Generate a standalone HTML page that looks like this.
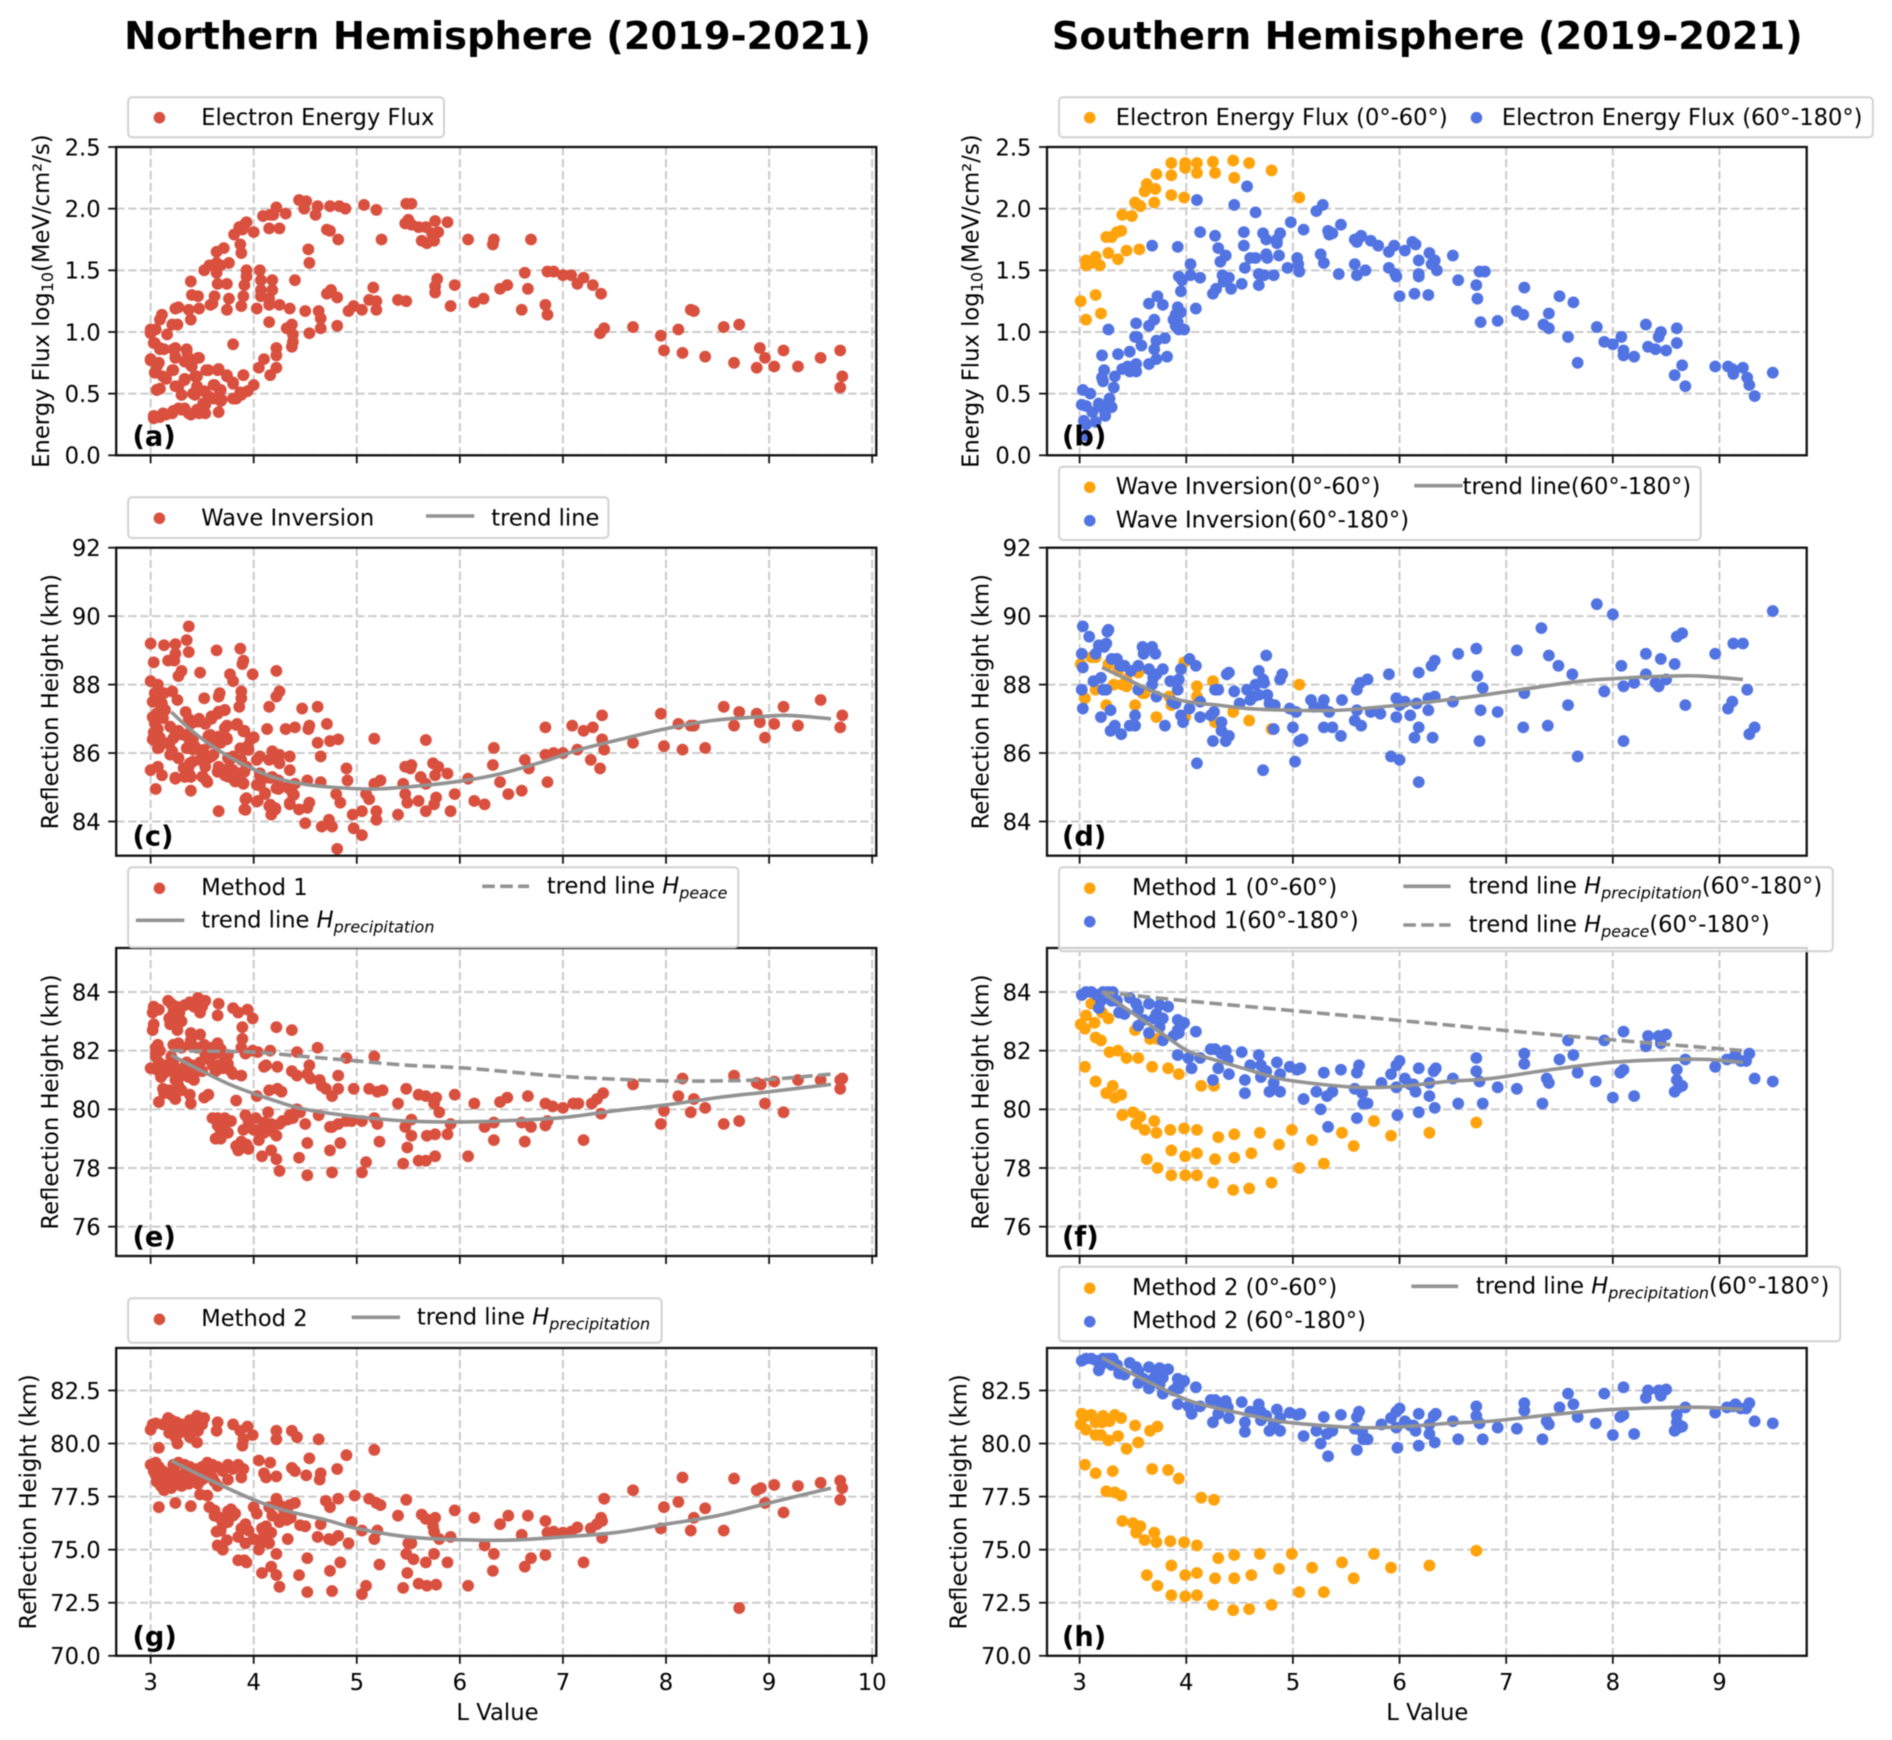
<!DOCTYPE html>
<html lang="en">
<head>
<meta charset="utf-8">
<title>Northern and Southern Hemisphere (2019-2021)</title>
<style>
html,body{margin:0;padding:0;background:#fff;width:1892px;height:1740px;overflow:hidden}
svg{display:block;filter:blur(.45px)}
text{font-family:"DejaVu Sans","Liberation Sans",sans-serif;fill:#000}
.lg{font-size:22.7px}
.ttl{font-size:38.4px;font-weight:bold;text-anchor:middle}
.box{fill:#fff;fill-opacity:.8;stroke:#d2d2d2;stroke-width:2}
.tl{stroke:#939393;stroke-width:3.6;fill:none}
.ds{stroke-dasharray:12.6 5.4}
.i{font-style:italic}
.s{font-size:16px;font-style:italic}
</style>
</head>
<body>
<svg id="figure" xmlns="http://www.w3.org/2000/svg" width="1892" height="1740" viewBox="0 0 1892 1740">
<rect width="1892" height="1740" fill="#fff"/>
<text class="ttl" x="497.5" y="49">Northern Hemisphere (2019-2021)</text>
<text class="ttl" x="1427.3" y="49">Southern Hemisphere (2019-2021)</text>
<g id="plots"></g>
<g id="legends">
<g transform="scale(.9964 1)">
<rect class="box" x="128.6" y="97.3" width="317" height="40" rx="4"/>
<circle cx="160" cy="117.7" r="5.8" fill="#d9503f"/>
<text class="lg" x="202" y="125">Electron Energy Flux</text>
</g>
<g transform="translate(3.4 0) scale(.9964 1)">
<rect class="box" x="1059.4" y="97.3" width="816.8" height="40" rx="4"/>
<circle cx="1090.3" cy="117.7" r="5.8" fill="#ffa30d"/>
<text class="lg" x="1116.4" y="125">Electron Energy Flux (0°-60°)</text>
<circle cx="1478.4" cy="117.7" r="5.8" fill="#5174e2"/>
<text class="lg" x="1503.9" y="125">Electron Energy Flux (60°-180°)</text>
</g>
<g transform="scale(.9964 1)">
<rect class="box" x="128.6" y="497.3" width="482" height="40.7" rx="4"/>
<circle cx="160" cy="518.3" r="5.8" fill="#d9503f"/>
<text class="lg" x="202" y="525.5">Wave Inversion</text>
<line class="tl" x1="427.5" x2="476" y1="516" y2="516"/>
<text class="lg" x="493" y="525.5">trend line</text>
</g>
<g transform="translate(3.4 0) scale(.9964 1)">
<rect class="box" x="1059.4" y="466.7" width="644" height="73.3" rx="4"/>
<circle cx="1090.3" cy="487.3" r="5.8" fill="#ffa30d"/>
<text class="lg" x="1116.4" y="494">Wave Inversion(0°-60°)</text>
<circle cx="1090.3" cy="520.7" r="5.8" fill="#5174e2"/>
<text class="lg" x="1116.4" y="527.5">Wave Inversion(60°-180°)</text>
<line class="tl" x1="1416" x2="1464.5" y1="485.7" y2="485.7"/>
<text class="lg" x="1464.5" y="494">trend line(60°-180°)</text>
</g>
<g transform="scale(.9964 1)">
<rect class="box" x="128.6" y="867.3" width="612.4" height="80" rx="4"/>
<circle cx="160" cy="888.3" r="5.8" fill="#d9503f"/>
<text class="lg" x="202" y="895">Method 1</text>
<line class="tl ds" x1="484" x2="531" y1="886.3" y2="886.3"/>
<text class="lg" x="548.8" y="893.5">trend line <tspan class="i">H</tspan><tspan class="s" dy="5">peace</tspan></text>
<line class="tl" x1="136.4" x2="185" y1="920.3" y2="920.3"/>
<text class="lg" x="202" y="927.5">trend line <tspan class="i">H</tspan><tspan class="s" dy="5">precipitation</tspan></text>
</g>
<g transform="translate(3.4 0) scale(.9964 1)">
<rect class="box" x="1059.4" y="867.3" width="776.6" height="84" rx="4"/>
<circle cx="1090.3" cy="888.3" r="5.8" fill="#ffa30d"/>
<text class="lg" x="1132.8" y="895">Method 1 (0°-60°)</text>
<circle cx="1090.3" cy="921.7" r="5.8" fill="#5174e2"/>
<text class="lg" x="1132.8" y="928">Method 1(60°-180°)</text>
<line class="tl" x1="1405" x2="1452.4" y1="886.3" y2="886.3"/>
<text class="lg" x="1470.6" y="893.5">trend line <tspan class="i">H</tspan><tspan class="s" dy="5">precipitation</tspan><tspan dy="-5">(60°-180°)</tspan></text>
<line class="tl ds" x1="1405" x2="1452.4" y1="925" y2="925"/>
<text class="lg" x="1470.6" y="932">trend line <tspan class="i">H</tspan><tspan class="s" dy="5">peace</tspan><tspan dy="-5">(60°-180°)</tspan></text>
</g>
<g transform="scale(.9964 1)">
<rect class="box" x="128.6" y="1298.3" width="535.4" height="44.4" rx="4"/>
<circle cx="160" cy="1319.3" r="5.8" fill="#d9503f"/>
<text class="lg" x="202" y="1326">Method 2</text>
<line class="tl" x1="353" x2="401.5" y1="1317.3" y2="1317.3"/>
<text class="lg" x="418.4" y="1324.5">trend line <tspan class="i">H</tspan><tspan class="s" dy="5">precipitation</tspan></text>
</g>
<g transform="translate(3.4 0) scale(.9964 1)">
<rect class="box" x="1059.4" y="1266.7" width="784.1" height="74.6" rx="4"/>
<circle cx="1090.3" cy="1288.3" r="5.8" fill="#ffa30d"/>
<text class="lg" x="1132.8" y="1295">Method 2 (0°-60°)</text>
<circle cx="1090.3" cy="1321.7" r="5.8" fill="#5174e2"/>
<text class="lg" x="1132.8" y="1328">Method 2 (60°-180°)</text>
<line class="tl" x1="1413" x2="1460" y1="1286.3" y2="1286.3"/>
<text class="lg" x="1477.8" y="1293.5">trend line <tspan class="i">H</tspan><tspan class="s" dy="5">precipitation</tspan><tspan dy="-5">(60°-180°)</tspan></text>
</g>
</g>
</svg>
<script>
// Tick labels
const xTicksNorth = ['3','4','5','6','7','8','9','10'];
const xTicksSouth = ['3','4','5','6','7','8','9'];
const fluxTicks = ['0.0','0.5','1.0','1.5','2.0','2.5'];
const waveTicks = ['84','86','88','90','92'];
const method1Ticks = ['76','78','80','82','84'];
const method2Ticks = ['70.0','72.5','75.0','77.5','80.0','82.5'];

// Series values as [L value, measured value]
const fluxNorth = [[3.03,.3],[3.09,.31],[3.15,.33],[3.21,.34],[3.27,.38],[3.33,.38],[3.39,.33],[3.47,.34],[3.53,.41],[3.56,.48],[3.66,.35],[3.68,.44],[3.83,.46],[3.88,.49],[3.94,.52],[4,.57],[4.05,.71],[4.1,.78],[4.16,.65],[4.22,.71],[4.22,.81],[4.22,.87],[4.37,.88],[4.38,.92],[4.38,.98],[4.37,1.06],[4.32,1.03],[4.54,.99],[4.65,1.03],[4.81,1.05],[4.65,1.11],[4.63,1.17],[4.5,1.17],[4.35,1.19],[4.25,1.22],[4.15,1.08],[4.15,1.22],[4.03,1.19],[4.92,1.17],[4.97,1.21],[5.05,1.18],[5.12,1.26],[5.19,1.25],[5.19,1.18],[5.16,1.36],[5.4,1.26],[5.48,1.25],[5.91,1.21],[6.14,1.24],[6.23,1.27],[5.95,1.38],[5.76,1.32],[5.76,1.37],[5.78,1.43],[6.39,1.35],[6.46,1.38],[6.6,1.18],[6.85,1.14],[6.83,1.22],[6.66,1.35],[6.63,1.48],[6.85,1.49],[6.91,1.49],[7,1.46],[7.08,1.46],[7.14,1.39],[7.2,1.44],[7.29,1.38],[7.37,1.31],[7.36,.99],[7.4,1.03],[7.68,1.04],[7.95,.97],[7.98,.85],[8.12,1.02],[8.16,.83],[8.24,1.18],[8.27,1.17],[8.38,.8],[8.56,1.04],[8.71,1.06],[8.66,.75],[8.88,.71],[8.91,.87],[8.96,.79],[9.05,.72],[9.14,.85],[9.28,.72],[9.5,.79],[9.69,.85],[9.71,.64],[9.69,.55],[3,1.02],[3.03,.91],[3.05,1.02],[3.11,1.14],[3.09,1.1],[3.16,.98],[3.21,1.06],[3.26,1.06],[3.24,1.19],[3.27,1.2],[3.39,1.1],[3.37,1.18],[3.39,1.41],[3.4,1.3],[3.46,1.29],[3.47,1.19],[3.58,1.22],[3.62,1.29],[3.6,1.23],[3.52,1.5],[3.57,1.54],[3.64,1.56],[3.64,1.65],[3.71,1.68],[3.68,1.54],[3.76,1.56],[3.64,1.48],[3.65,1.39],[3.74,1.39],[3.76,1.27],[3.74,1.18],[3.88,1.21],[3.9,1.29],[3.91,1.38],[3.93,1.45],[3.93,1.5],[4.06,1.5],[4.07,1.42],[4.07,1.34],[4.07,1.29],[4.18,1.42],[4.18,1.34],[4.15,1.27],[4.4,1.42],[4.71,1.31],[4.75,1.34],[4.81,1.28],[3.81,1.79],[3.86,1.85],[3.91,1.87],[3.93,1.89],[3.89,1.83],[4,1.81],[3.87,1.71],[3.88,1.64],[4.09,1.94],[4.16,1.95],[4.15,1.84],[4.25,1.84],[4.22,2.01],[4.19,1.95],[4.31,1.96],[4.44,2.07],[4.51,2.06],[4.49,2],[4.62,2.02],[4.6,1.95],[4.74,2.02],[4.83,2.02],[4.89,2],[5.07,2.03],[5.19,1.99],[4.71,1.83],[4.74,1.82],[4.82,1.75],[4.53,1.67],[4.54,1.56],[5.24,1.75],[5.48,2.04],[5.53,2.04],[5.47,1.88],[5.5,1.91],[5.53,1.87],[5.6,1.85],[5.67,1.85],[5.76,1.9],[5.88,1.89],[5.79,1.81],[5.73,1.8],[5.63,1.74],[5.68,1.72],[5.75,1.74],[6.08,1.75],[6.32,1.71],[6.33,1.75],[6.69,1.75],[3,.77],[3.08,.75],[3.09,.87],[3.13,.86],[3.05,.67],[3.06,.53],[3.09,.54],[3.15,.62],[3.21,.69],[3.24,.87],[3.24,.79],[3.27,.56],[3.3,.49],[3.35,.85],[3.36,.8],[3.39,.73],[3.33,.62],[3.45,.64],[3.45,.56],[3.47,.79],[3.43,.49],[3.52,.52],[3.56,.69],[3.62,.57],[3.65,.69],[3.68,.53],[3.74,.64],[3.8,.58],[3.8,.9],[3.9,.65],[3.03,.32],[3.12,.34],[3.22,.36],[3.3,.37],[3.37,.34],[3.45,.37],[3.53,.34],[3.51,.42],[3.61,.46],[3.69,.45],[3.8,.46],[3,.99],[3.04,.91],[3,.78],[3.09,.86],[3.06,.72],[3.04,.67],[3.12,.64],[3.22,.69],[3.22,.86],[3.24,.8],[3.35,.86],[3.33,.76],[3.46,.79],[3.4,.72],[3.33,.61],[3.43,.64],[3.54,.69],[3.66,.7],[3.74,.65],[3.9,.65],[3.8,.59],[3.61,.57],[3.24,.56],[3.3,.49],[3.41,.5],[3.67,.53],[3.87,.51],[3.06,.53]];

const waveNorth = [[3,89.2],[3.13,89.15],[3.24,89.18],[3.35,89.3],[3.37,89.7],[3.37,88.95],[3.24,88.9],[3.17,88.7],[3.23,88.7],[3.03,88.65],[3.64,89],[3.87,89.05],[3.9,88.7],[3.89,88.6],[3.3,88.4],[3.27,88.25],[3.48,88.35],[3.77,88.3],[3.8,88.1],[3.99,88.3],[4.22,88.4],[3,88.1],[3.07,88],[4.25,87.8],[4.22,87.65],[3.88,87.8],[3.88,87.6],[3.67,87.75],[3.66,87.65],[3.52,87.6],[3.07,87.8],[3.13,87.75],[3.21,87.8],[3.26,87.55],[3.06,87.65],[3.02,87.5],[3.11,87.45],[4.15,87.35],[4.47,87.3],[4.62,87.35],[3.72,87.25],[3.86,87.35],[3.65,87.15],[3.34,87.2],[3.02,87.05],[3.09,87.15],[3.59,87],[3.53,86.85],[3.47,87],[3.37,87],[3.84,86.85],[4.71,86.85],[4.54,86.8],[4.53,86.7],[4.13,86.7],[4.31,86.7],[4.4,86.75],[3.74,86.8],[3.91,86.65],[4,86.45],[3.97,86.4],[3.07,86.7],[3.03,86.6],[3.02,86.4],[3.09,86.45],[3.27,86.65],[3.24,86.5],[3.36,86.55],[3.41,86.4],[3.56,86.5],[3.66,86.45],[3.74,86.4],[3.58,86.3],[3.68,86.3],[4.62,86.3],[4.74,86.35],[4.82,86.4],[5.17,86.42],[5.67,86.38],[3.08,86.15],[3.18,86.25],[3.21,86.05],[3.27,85.85],[3.41,86.1],[3.5,85.95],[3.91,86.1],[3.94,86.2],[3.75,85.85],[3.59,85.9],[3.88,85.8],[4.06,85.9],[4.18,86.05],[4.25,85.95],[4.35,85.9],[4.65,85.9],[4.15,85.8],[4.25,85.7],[3.41,85.75],[3.37,85.6],[3.53,85.6],[3.65,85.45],[3.8,85.5],[3.91,85.45],[3,85.5],[3.07,85.6],[3.11,85.35],[3.24,85.25],[3.33,85.3],[3.39,85.3],[3.51,85.3],[3.55,85.15],[3.72,85.35],[3.8,85.25],[3.86,85.3],[3.9,85.1],[4.06,85.35],[4.09,85.25],[4.18,85.3],[4.24,85.2],[4.35,85.5],[4.4,85.1],[4.52,85.2],[4.65,85.15],[4.9,85.55],[4.91,85.2],[5.17,85.1],[5.23,85.2],[5.45,85.1],[5.47,85.6],[5.53,85.65],[5.52,85.55],[5.74,85.7],[5.79,85.6],[5.88,85.4],[5.62,85.3],[5.67,85.1],[5.76,85.35],[6.32,85.65],[6.33,86.15],[6.63,85.8],[6.67,85.55],[6.85,85.15],[6.83,85.95],[6.83,86.75],[6.91,86],[7,86],[7.09,86.8],[7.14,86.1],[7.2,86.65],[7.29,86.75],[7.27,85.8],[7.36,85.55],[7.38,86.4],[7.38,87.1],[7.4,86.1],[7.68,86.3],[7.95,87.15],[7.98,86.2],[8.12,86.85],[8.16,86.1],[8.24,86.8],[8.27,86.8],[8.38,86.15],[8.56,87.35],[8.71,87.2],[8.66,86.8],[8.88,87.15],[8.91,86.9],[8.96,86.45],[9.05,86.85],[9.14,87.35],[9.28,86.8],[9.5,87.55],[9.71,87.1],[9.69,86.75],[3.05,84.95],[3.39,84.9],[3.66,84.3],[3.92,84.65],[3.91,84.35],[4.04,84.6],[4.06,85.05],[4.11,84.8],[4.15,84.45],[4.21,84.35],[4.17,84.2],[4.24,84.95],[4.33,85],[4.38,84.8],[4.35,84.5],[4.44,84.35],[4.54,84.55],[4.52,84.4],[4.5,83.95],[4.66,83.85],[4.73,84.05],[4.76,83.85],[4.8,84.8],[4.84,84.55],[4.81,83.2],[4.96,84.2],[5.05,84.3],[4.97,83.8],[5.05,83.6],[5.09,84.8],[5.12,84.65],[5.19,84.3],[5.19,84.05],[5.4,84.2],[5.47,84.8],[5.49,84.55],[5.6,84.6],[5.67,84.3],[5.77,84.7],[5.75,84.5],[5.91,84.3],[5.95,84.8],[6.08,85.25],[6.14,84.6],[6.24,84.5],[6.39,85.15],[6.47,84.8],[6.6,84.9],[3.04,87.75],[3.07,87.5],[3.06,87.16],[3.04,86.87],[3.06,86.63],[3.03,86.38],[3.07,86.14],[3.14,87.26],[3.12,87.02],[3.19,86.77],[3.24,86.63],[3.17,86.29],[3.22,86.43],[3.19,85.95],[3.27,85.85],[3.32,86.53],[3.38,86.34],[3.35,86.14],[3.43,86.19],[3.51,86.09],[3.48,85.8],[3.56,85.85],[3.61,85.95],[3.38,85.7],[3.32,85.56],[3.38,85.36],[3.24,85.28],[3.5,85.31],[3.54,85.2],[3.58,86.53],[3.66,86.48],[3.74,86.43],[3.72,86.73],[3.83,86.82],[3.9,86.63],[4,86.46],[3.66,85.6],[3.72,85.51],[3.77,85.8],[3.75,85.31],[3.82,85.17],[3.9,85.12],[3.87,85.41],[3.93,85.6],[3.95,86.09],[3.87,86.14],[3.8,85.9],[4.03,85.8],[4.06,85.41],[4.16,85.27],[4.19,86],[4.24,85.75],[4.03,85.07],[4.11,84.83],[4.22,84.97],[4.34,84.97],[4.39,84.78],[4.35,84.54],[4.16,84.49],[4.21,84.39],[3.93,84.68],[3.92,84.34],[4.03,84.58],[3.4,86.87],[3.46,86.92],[3.59,87.07],[3.66,87.21],[3.72,87.26]];
const waveNorthTrend = [[3.2,87.2],[3.42,86.6],[3.65,86.1],[3.88,85.7],[4.18,85.3],[4.47,85.1],[4.76,85],[5.17,84.95],[5.64,85.05],[6.05,85.2],[6.4,85.4],[6.81,85.75],[7.16,86.1],[7.63,86.45],[7.98,86.7],[8.45,86.95],[8.86,87.05],[9.19,87.1],[9.6,87]];

const method1North = [[3.02,83.3],[3.03,82.9],[3.02,82.7],[3.03,83.5],[3.08,83.4],[3.17,83.7],[3.2,83.6],[3.25,83.5],[3.22,83.3],[3.18,83.1],[3.19,82.9],[3.24,82.85],[3.26,82.7],[3.28,83.3],[3.38,83.65],[3.46,83.8],[3.53,83.7],[3.48,83.3],[3.47,83.4],[3.66,83.6],[3.65,83.2],[3.8,83.45],[3.85,83.3],[3.94,83.4],[3.99,83.1],[3.89,82.8],[3.89,82.4],[4.22,82.8],[4.37,82.7],[3.39,82.6],[3.48,82.55],[3.39,82.35],[4.62,82.1],[4.42,81.95],[4.16,82],[4.04,81.95],[3.99,82],[3.88,82.1],[3.92,81.9],[3.05,82.1],[3.07,82.2],[3.09,82],[3.05,81.8],[3.08,81.6],[3,81.4],[3.06,81.35],[3.1,81.1],[3.15,81.5],[3.2,81.8],[3.22,82.2],[3.27,82.25],[3.3,82.1],[3.38,82.2],[3.45,82.1],[3.52,82.2],[3.58,82.1],[3.65,82.25],[3.68,82.05],[3.72,81.7],[3.75,81.55],[3.66,81.5],[3.63,81.3],[3.78,81.3],[3.88,81.15],[3.35,81.6],[3.4,81.5],[3.45,81.3],[3.37,81.1],[3.42,81],[3.3,81.3],[3.24,81],[3.27,80.8],[3.3,80.65],[3.24,80.35],[3.08,80.25],[3.13,80.55],[3.18,80.65],[3.38,80.5],[3.39,80.2],[3.52,80.4],[3.56,80.5],[3.83,80.3],[4.1,81.45],[4.12,81.5],[4.23,81.45],[4.37,81.3],[4.42,81.15],[4.54,81.5],[4.9,81.75],[5.17,81.8],[4.55,81.05],[4.52,81.2],[4.64,81],[4.82,81.15],[4.66,80.8],[4.7,80.7],[4.76,80.45],[4.82,80.7],[4.97,80.7],[5.12,80.7],[5.2,80.6],[5.25,80.65],[5.48,80.7],[4.03,80.45],[4.15,80.65],[4.23,80.7],[4.27,80.6],[3.6,79.7],[3.65,79.45],[3.63,79],[3.68,79],[3.72,79.7],[3.75,79.2],[3.78,79.6],[3.83,78.75],[3.91,78.7],[3.93,78.8],[3.9,79.3],[3.92,79.8],[3.95,79.4],[4.02,79.7],[4.05,79.3],[4.1,79.2],[4.14,79.9],[4.17,79.5],[4.22,79.1],[4.28,79.6],[4.33,79.65],[4.38,79.7],[4.42,80],[4.45,79.9],[4.5,79.5],[4.52,78.85],[4.63,79.8],[4.74,79.4],[4.82,79.5],[4.76,79.4],[4.9,79.6],[4.95,79.6],[5.05,79.6],[5.17,79.7],[5.2,79.5],[5.22,78.9],[5.47,79.4],[5.53,79.65],[5.53,79.1],[5.68,79.1],[5.76,79.15],[5.88,79.15],[5.91,79.5],[5.8,79.9],[5.75,80.2],[5.4,80.2],[5.6,80.5],[5.67,80.45],[5.77,80.4],[5.95,80.5],[6.14,80.2],[6.39,80.25],[6.46,80.4],[6.66,80.45],[6.83,80.2],[6.9,80.1],[7,80.05],[7.1,80.2],[7.15,80.2],[7.28,80.2],[7.33,80.35],[7.39,80.55],[7.37,79.85],[6.24,79.4],[6.33,79.55],[6.33,78.95],[6.6,79.55],[6.69,79.4],[6.83,79.45],[6.85,79.6],[6.63,78.9],[7.2,78.95],[7.68,80.85],[7.95,79.5],[7.98,79.95],[8.12,80.45],[8.16,81.05],[8.24,79.9],[8.27,80.35],[8.38,80.05],[8.56,79.5],[8.71,79.6],[8.66,81.15],[8.88,80.9],[8.92,80.85],[8.96,80.2],[9.05,80.95],[9.14,79.9],[9.28,81],[9.5,81],[9.69,81],[9.71,81.05],[9.69,80.7],[3.95,78.65],[3.85,78.7],[4.08,78.4],[4.17,78.6],[4.22,78.3],[4.25,77.9],[4.44,78.35],[4.52,77.75],[4.74,78.6],[4.76,77.85],[4.84,78.85],[5.05,77.85],[5.09,78.2],[5.45,78.15],[5.49,78.7],[5.6,78.25],[5.67,78.25],[5.76,78.4],[6.08,78.4],[3.05,81.9],[3.1,81.5],[3.12,81.2],[3.17,81.3],[3.22,81.6],[3.25,81.35],[3.28,81.1],[3.33,81.45],[3.35,81.2],[3.4,81.2],[3.43,81.4],[3.48,81.6],[3.5,81.3],[3.53,81.9],[3.57,81.7],[3.6,81.5],[3.63,81.9],[3.7,81.4],[3.75,81.85],[3.8,81.2],[3.12,80.7],[3.2,80.5],[3.25,83.2],[3.3,83],[3.22,83.5],[3.33,83.55],[3.42,83.5],[3.5,83.5],[3.7,79.3],[3.72,79.5],[3.68,79.25],[3.65,79.7],[3.95,79.6],[4,79.3],[4.1,79.55],[4.18,79.25],[4.05,78.95],[4.25,79.5],[4.35,79.8],[3.85,78.6],[3.88,78.9]];
const method1NorthPrecipitation = [[3.2,81.85],[3.5,81.3],[3.8,80.8],[4.2,80.3],[4.5,80],[5,79.75],[5.5,79.6],[6,79.57],[6.5,79.62],[7,79.72],[7.5,79.95],[8,80.15],[8.5,80.4],[9,80.6],[9.6,80.85]];
const method1NorthPeace = [[3.2,82],[3.6,81.98],[4,81.95],[4.5,81.8],[5,81.65],[5.5,81.5],[6,81.42],[6.5,81.27],[7,81.12],[7.5,81.03],[8,80.97],[8.5,80.97],[9,81.02],[9.6,81.2]];

const method2North = [[3,80.65],[3.02,80.9],[3.05,80.95],[3.15,81],[3.17,81.2],[3.2,81.1],[3.22,80.8],[3.25,81],[3.18,80.5],[3.24,80.3],[3.26,80],[3.08,79.8],[3.3,80.9],[3.33,80.6],[3.38,81.1],[3.45,81.3],[3.52,81.2],[3.47,80.8],[3.46,80.6],[3.45,80.05],[3.38,80.3],[3.65,81],[3.64,80.6],[3.8,80.9],[3.87,80.6],[3.94,80.8],[3.99,80.4],[3.9,80.2],[3.89,79.9],[4.22,80.6],[4.22,80.2],[4.37,80.6],[4.42,80.3],[4.63,80.2],[4.9,79.45],[5.17,79.7],[3,79],[3.05,79.1],[3.08,78.9],[3.05,78.5],[3.07,78.3],[3.1,78],[3.15,78.3],[3.18,78.6],[3.22,79],[3.27,79.1],[3.33,79],[3.38,78.9],[3.45,78.8],[3.55,79.1],[3.6,79],[3.65,78.9],[3.55,78.7],[3.5,78.3],[3.4,78.3],[3.3,78],[3.25,78.4],[3.2,77.9],[3.13,77.8],[3.6,78.4],[3.7,78.7],[3.75,79],[3.8,78.8],[3.85,79],[3.9,78.8],[3.88,78.4],[3.65,78],[3.75,78.3],[3.48,77.6],[3.55,77.55],[3.08,77],[3.24,77.2],[3.39,77.05],[4.05,79.2],[4.16,79.1],[4.1,78.6],[4.12,78.4],[4.22,78.45],[4.37,78.85],[4.4,78.7],[4.54,79.3],[4.51,78.5],[4.65,78.6],[4.64,78.3],[4.81,78.8],[3.57,77],[3.62,76.85],[3.62,76.6],[3.75,76.8],[3.8,76.6],[3.82,76.7],[3.75,76.3],[3.68,75.9],[3.64,75.85],[3.65,75.2],[3.7,75],[3.74,75.45],[3.9,76],[3.92,76.2],[3.95,75.9],[3.92,75.3],[3.85,74.5],[3.91,74.5],[3.93,74.4],[4,77],[4.03,76.7],[4.08,76],[4.12,76.1],[4.07,75.3],[4.05,75],[4.15,75.3],[4.17,75.8],[4.22,74.8],[4.15,77],[4.22,77.4],[4.3,76.8],[4.35,77.1],[4.4,77.2],[4.25,76.3],[4.33,75.5],[4.36,76.5],[4.45,76.15],[4.5,76.1],[4.52,74.6],[4.44,73.8],[4.08,73.9],[4.17,74.2],[4.22,73.8],[4.25,73.25],[4.52,73],[4.62,75.6],[4.65,76.2],[4.73,75.5],[4.76,75.45],[4.82,75.65],[4.7,77.3],[4.74,77],[4.82,77.4],[4.74,74],[4.84,74.4],[4.76,73.05],[4.92,75.3],[4.95,76.3],[4.98,77.55],[5.05,75.9],[5.05,72.9],[5.09,73.3],[5.12,77.4],[5.19,77.2],[5.23,77.1],[5.2,75.9],[5.17,75.5],[5.22,74.3],[5.4,76.6],[5.45,73.2],[5.48,77.35],[5.48,74.8],[5.49,73.9],[5.5,75.3],[5.53,75.3],[5.55,74.55],[5.6,73.4],[5.63,76.65],[5.67,76.45],[5.67,74.4],[5.68,73.3],[5.76,76.5],[5.74,76.1],[5.75,75.85],[5.75,74.8],[5.77,73.35],[5.8,75.5],[5.88,74.4],[5.91,75.6],[5.95,76.85],[6.08,73.3],[6.14,76.5],[6.24,75.2],[6.33,74.8],[6.32,74],[6.39,76.2],[6.47,76.6],[6.6,75.7],[6.63,74.2],[6.66,76.6],[6.69,74.6],[6.83,74.75],[6.83,76.35],[6.85,75.8],[6.91,75.85],[7,75.8],[7.08,75.85],[7.14,76.05],[7.2,74.4],[7.27,76],[7.33,76.2],[7.37,76.5],[7.38,76.35],[7.38,75.55],[7.4,77.4],[7.68,77.8],[7.95,76],[7.98,77],[8.12,77.25],[8.16,78.4],[8.24,75.9],[8.27,76.5],[8.38,76.95],[8.56,75.9],[8.66,78.35],[8.71,72.25],[8.88,77.8],[8.92,77.9],[8.96,77.2],[9.05,78.05],[9.14,76.75],[9.28,78],[9.5,78.15],[9.69,78.25],[9.71,77.9],[9.69,77.35],[3.03,78.7],[3.06,78.2],[3.1,78.5],[3.12,78.7],[3.14,78.1],[3.17,78],[3.2,78.3],[3.23,78.7],[3.26,78.1],[3.28,78.5],[3.32,78.4],[3.35,78.7],[3.37,78.1],[3.4,78.6],[3.43,78.4],[3.46,78.1],[3.48,78.6],[3.5,78.9],[3.53,78.4],[3.58,78.6],[3.62,78.2],[3.25,80.7],[3.28,80.5],[3.2,80.8],[3.12,80.9],[3.35,80.8],[3.42,80.7],[3.43,81],[3.5,80.9],[3.67,76.5],[3.7,76.2],[3.78,76.9],[3.85,75.6],[3.88,76],[4,75.5],[4.1,75.7],[4.18,76.6],[4.25,77.1],[4.28,76.5],[4.28,77],[4.32,76.4]];
const method2NorthTrend = [[3.2,79.2],[3.4,78.7],[3.7,78],[4,77.35],[4.3,76.85],[4.7,76.4],[5,76],[5.5,75.6],[6,75.47],[6.5,75.45],[7,75.6],[7.5,75.8],[8,76.2],[8.5,76.6],[9,77.2],[9.6,77.9]];

const fluxSouthLow = [[3.01,1.25],[3.06,1.1],[3.15,1.3],[3.2,1.15],[3.06,1.58],[3.06,1.54],[3.11,1.56],[3.15,1.61],[3.19,1.54],[3.25,1.77],[3.3,1.77],[3.27,1.64],[3.35,1.81],[3.39,1.82],[3.36,1.59],[3.44,1.66],[3.4,1.95],[3.49,1.94],[3.52,2.05],[3.57,2.02],[3.56,1.67],[3.61,2.14],[3.63,2.2],[3.71,2.16],[3.7,2.05],[3.72,2.28],[3.86,2.27],[3.86,2.37],[3.86,2.11],[3.98,2.09],[3.99,2.37],[3.99,2.33],[4.1,2.37],[4.1,2.29],[4.25,2.38],[4.27,2.29],[4.44,2.39],[4.45,2.25],[4.59,2.37],[4.8,2.31],[5.06,2.09]];
const fluxSouthHigh = [[3.03,.53],[3.02,.41],[3.06,.4],[3.1,.5],[3.04,.28],[3.06,.25],[3.05,.16],[3.12,.35],[3.15,.27],[3.18,.42],[3.22,.38],[3.24,.32],[3.28,.46],[3.3,.39],[3.27,.4],[3.32,.55],[3.33,.64],[3.22,.6],[3.21,.63],[3.21,.81],[3.27,1.02],[3.23,.69],[3.36,.82],[3.4,.7],[3.45,.72],[3.47,.68],[3.53,.68],[3.53,.74],[3.47,.84],[3.52,.96],[3.54,.96],[3.53,1.07],[3.58,.89],[3.65,.74],[3.7,.86],[3.72,.78],[3.72,.93],[3.8,.95],[3.82,.8],[3.7,1.1],[3.65,1.23],[3.73,1.29],[3.78,1.22],[3.88,1.1],[3.9,1.05],[3.92,1.08],[3.9,1.14],[3.92,1.2],[3.95,1.16],[3.98,1.02],[3.93,1.02],[3.65,1.05],[3.95,1.33],[3.93,1.45],[3.96,1.42],[4.04,1.55],[4.04,1.46],[4.09,1.19],[4.13,1.44],[4.25,1.31],[4.28,1.35],[4.32,1.57],[4.37,1.62],[4.34,1.46],[4.35,1.41],[4.4,1.44],[4.42,1.35],[4.3,1.68],[4.27,1.78],[4.13,1.81],[4.1,2.07],[3.68,1.7],[3.92,1.69],[4.45,2.03],[4.57,2.18],[4.65,1.97],[4.54,1.81],[4.54,1.7],[4.6,1.6],[4.65,1.6],[4.55,1.52],[4.68,1.47],[4.73,1.46],[4.72,1.8],[4.75,1.75],[4.75,1.63],[4.76,1.6],[4.85,1.75],[4.88,1.8],[4.85,1.72],[4.87,1.62],[4.95,1.52],[4.98,1.89],[5.04,1.6],[5.05,1.55],[5.06,1.49],[4.52,1.39],[4.68,1.38],[4.82,1.46],[5.1,1.83],[5.22,1.98],[5.28,2.03],[5.34,1.79],[5.26,1.63],[5.29,1.56],[5.33,1.82],[5.37,1.8],[5.45,1.87],[5.43,1.47],[5.6,1.73],[5.63,1.77],[5.58,1.75],[5.64,1.78],[5.58,1.55],[5.6,1.46],[5.68,1.5],[5.73,1.74],[5.8,1.7],[5.9,1.65],[5.95,1.7],[5.9,1.52],[5.97,1.45],[5.96,1.47],[6,1.29],[6.05,1.66],[6.12,1.73],[6.15,1.71],[6.14,1.31],[6.18,1.58],[6.18,1.47],[6.18,1.45],[6.27,1.3],[6.28,1.64],[6.3,1.55],[6.33,1.58],[6.35,1.5],[6.5,1.62],[6.55,1.42],[6.72,1.38],[6.73,1.27],[6.75,1.49],[6.8,1.49],[6.76,1.08],[6.92,1.09],[7.1,1.17],[7.16,1.14],[7.17,1.36],[7.35,1.06],[7.4,1.03],[7.4,1.15],[7.5,1.29],[7.58,.96],[7.63,1.24],[7.67,.75],[7.85,1.04],[7.92,.92],[8,.9],[8.08,.96],[8.1,.85],[8.1,.81],[8.2,.8],[8.31,1.06],[8.33,.88],[8.4,.86],[8.43,.96],[8.45,1],[8.5,.85],[8.58,.65],[8.6,1.03],[8.6,.91],[8.65,.73],[8.68,.56],[8.96,.72],[9.08,.72],[9.13,.66],[9.12,.7],[9.22,.71],[9.26,.63],[9.28,.57],[9.33,.48],[9.5,.67]];

const waveSouthLow = [[3.01,88.6],[3.05,87.6],[3.11,88.8],[3.15,88.8],[3.15,87.85],[3.25,87.4],[3.27,88.6],[3.32,88],[3.36,88.4],[3.4,88],[3.44,88.15],[3.44,87.95],[3.52,87.4],[3.55,88.35],[3.59,87.75],[3.61,87.75],[3.72,87.05],[3.84,87.65],[3.86,87.4],[3.98,88.65],[3.99,87.05],[4.1,87.95],[4.1,87.65],[4.25,88.1],[4.27,86.9],[4.44,87.2],[4.59,86.95],[4.8,86.7],[5.06,88]];
const waveSouthHigh = [[3.03,89.7],[3.09,89.4],[3.03,88.5],[3.02,88.9],[3.02,87.85],[3.03,87.3],[3.13,88.1],[3.15,88.9],[3.18,89.15],[3.23,89.1],[3.25,89.2],[3.26,89.55],[3.27,89.6],[3.22,87.85],[3.25,87.85],[3.2,88.2],[3.2,87.05],[3.29,87.25],[3.29,86.65],[3.33,86.8],[3.39,86.55],[3.47,86.8],[3.52,86.8],[3.52,87.1],[3.3,88.75],[3.35,88.75],[3.38,88.55],[3.42,88.55],[3.48,88.4],[3.55,88.55],[3.55,87.85],[3.6,88.9],[3.59,89.1],[3.68,89.1],[3.71,88.9],[3.65,88.45],[3.69,88.2],[3.72,88.3],[3.68,88],[3.72,87.65],[3.78,88.45],[3.8,86.8],[3.85,88.1],[3.87,87.5],[3.9,87.45],[3.92,87.85],[3.93,88.15],[3.95,88.45],[3.95,87.1],[3.97,86.9],[4.03,88.75],[4.03,87.3],[4.09,88.55],[4.1,85.7],[4.13,87.5],[4.13,87.05],[4.23,87.1],[4.25,86.35],[4.26,87.2],[4.27,87.85],[4.3,87.85],[4.33,86.9],[4.33,86.65],[4.37,86.35],[4.4,86.5],[4.38,88.3],[4.4,88.35],[4.45,87.8],[4.5,87.45],[4.57,87.85],[4.6,87.55],[4.63,87.65],[4.65,88],[4.68,87.7],[4.68,88.4],[4.72,88.15],[4.73,88.05],[4.75,88.85],[4.72,85.5],[4.76,87.7],[4.78,87.45],[4.83,87.4],[4.82,86.7],[4.88,88.15],[4.9,88.3],[4.97,87.3],[5,86.75],[5.02,85.75],[5.03,87.2],[5.06,86.35],[5.09,86.4],[5.17,87.55],[5.2,87.35],[5.28,87.35],[5.29,87.55],[5.29,86.75],[5.34,87.2],[5.37,86.75],[5.45,86.5],[5.46,87.55],[5.58,86.95],[5.6,87.85],[5.6,87.25],[5.63,88.05],[5.64,86.8],[5.7,88.15],[5.73,87.2],[5.82,87.15],[5.9,88.3],[5.92,85.9],[6,85.8],[5.97,87.6],[5.97,87.05],[6,87.4],[6.05,87.5],[6.1,87.1],[6.14,86.45],[6.16,87.45],[6.18,88.35],[6.18,86.75],[6.18,85.15],[6.27,87.6],[6.27,87.25],[6.3,88.55],[6.33,88.7],[6.33,87.65],[6.31,86.45],[6.5,87.5],[6.55,88.9],[6.72,89.05],[6.73,88.25],[6.75,86.35],[6.76,87.25],[6.78,87.9],[6.92,87.2],[7.1,89],[7.16,86.75],[7.17,87.75],[7.33,89.65],[7.39,86.8],[7.4,88.85],[7.49,88.55],[7.58,87.4],[7.62,88.3],[7.67,85.9],[7.85,90.35],[7.92,87.8],[8,90.05],[8.08,88.55],[8.1,86.35],[8.1,87.95],[8.2,88.05],[8.31,88.9],[8.31,88.3],[8.4,88.05],[8.43,87.95],[8.45,88.75],[8.5,88.15],[8.58,88.6],[8.6,89.4],[8.65,89.5],[8.68,87.4],[8.96,88.9],[9.08,87.3],[9.12,87.5],[9.13,89.2],[9.22,89.2],[9.26,87.85],[9.28,86.55],[9.33,86.75],[9.5,90.15]];
const waveSouthTrend = [[3.21,88.5],[3.45,88.15],[3.73,87.75],[4.01,87.5],[4.3,87.4],[4.58,87.3],[5,87.25],[5.43,87.25],[6,87.4],[6.56,87.6],[7.13,87.85],[7.7,88.1],[8.15,88.2],[8.55,88.25],[8.83,88.25],[9.22,88.15]];

const method1SouthLow = [[3.01,82.9],[3.06,83.2],[3.05,82.75],[3.05,81.45],[3.11,83.6],[3.14,82.95],[3.15,82.45],[3.2,82.35],[3.15,80.95],[3.21,83.3],[3.27,83.1],[3.25,80.55],[3.31,80.8],[3.33,80.4],[3.39,80.5],[3.28,81.95],[3.36,82],[3.44,81.75],[3.4,79.8],[3.5,79.9],[3.57,79.75],[3.53,79.5],[3.61,79.3],[3.72,79.2],[3.7,79.6],[3.55,81.75],[3.52,82.7],[3.66,82.4],[3.73,82.4],[3.68,81.45],[3.83,81.4],[3.93,81.2],[3.85,79.3],[3.98,79.35],[4.1,79.3],[3.63,78.3],[3.73,78],[3.86,77.75],[3.86,78.6],[3.99,77.75],[3.99,78.4],[4.1,78.5],[4.1,77.75],[4.14,80.8],[4.26,80.8],[4.25,77.5],[4.27,78.3],[4.3,79.05],[4.44,77.25],[4.45,78.35],[4.45,79.15],[4.59,77.3],[4.61,78.5],[4.69,79.2],[4.8,77.5],[4.87,78.8],[4.99,79.3],[5.06,78],[5.18,78.95],[5.29,78.15],[5.46,79.2],[5.57,78.75],[5.76,79.6],[5.92,79.1],[6.28,79.2],[6.72,79.55]];
const method2SouthLow = [[3.02,81.4],[3.01,80.9],[3.06,80.65],[3.06,81.3],[3.11,81.35],[3.15,80.4],[3.15,81],[3.2,80.4],[3.22,81.3],[3.21,81],[3.27,80.15],[3.28,81.05],[3.33,81.35],[3.36,80.35],[3.39,81.2],[3.44,79.75],[3.52,80.85],[3.55,80.05],[3.66,80.6],[3.73,80.8],[3.05,79],[3.15,78.6],[3.31,78.7],[3.25,77.75],[3.33,77.7],[3.39,77.55],[3.68,78.8],[3.83,78.75],[3.93,78.35],[4.14,77.45],[4.26,77.35],[3.4,76.35],[3.5,76.25],[3.57,76.1],[3.53,75.8],[3.61,75.45],[3.7,75.8],[3.72,75.35],[3.85,75.4],[3.98,75.35],[4.1,75.2],[4.3,74.6],[4.45,74.75],[4.69,74.8],[4.99,74.8],[5.76,74.8],[6.72,74.95],[3.86,74.25],[3.63,73.8],[3.99,73.8],[4.1,73.9],[4.27,73.65],[4.45,73.65],[4.61,73.8],[4.87,74.1],[5.18,74.15],[5.46,74.4],[5.57,73.65],[5.92,74.15],[6.28,74.25],[3.73,73.3],[3.86,72.85],[3.99,72.8],[4.1,72.85],[4.25,72.4],[4.44,72.15],[4.59,72.2],[4.8,72.4],[5.06,73],[5.29,73]];
const methodSouthHigh = [[3.02,83.9],[3.06,84],[3.11,84],[3.16,83.9],[3.22,84],[3.27,84],[3.31,84],[3.2,83.7],[3.18,83.45],[3.3,83.7],[3.35,83.7],[3.37,83.3],[3.42,83.25],[3.47,83.8],[3.53,83.6],[3.55,83.4],[3.6,83.05],[3.55,82.85],[3.65,83.6],[3.75,83.55],[3.83,83.5],[3.7,83.1],[3.72,83.25],[3.78,83.1],[3.75,82.8],[3.65,82.6],[3.78,82.35],[3.88,82.5],[3.92,82.7],[3.93,82.6],[3.92,83.05],[3.95,82.85],[3.98,82.95],[3.92,81.85],[4.02,81.75],[4.05,81.4],[4.09,82.65],[4.13,81.75],[4.23,82.05],[4.27,82.05],[4.25,81],[4.3,81.4],[4.33,81.9],[4.37,82],[4.4,81.2],[4.39,81.7],[4.52,81.95],[4.6,81.5],[4.55,81],[4.55,80.55],[4.68,81.85],[4.7,81.5],[4.7,81.1],[4.75,81.3],[4.78,80.6],[4.85,81.6],[4.82,80.9],[4.88,81.2],[4.88,80.6],[4.97,81.45],[5.04,81.35],[5.07,81.4],[5.1,80.35],[5.22,80.6],[5.26,80],[5.29,81.25],[5.33,79.4],[5.32,80.45],[5.37,80.6],[5.45,81.35],[5.58,80.7],[5.6,81.25],[5.62,81.5],[5.6,79.7],[5.65,80.55],[5.66,80.2],[5.7,80.2],[5.83,80.9],[5.92,81.2],[5.97,81.5],[5.97,80.75],[6,81.65],[5.98,79.8],[6.05,81.05],[6.1,80.85],[6.15,80.6],[6.13,80.85],[6.18,81.4],[6.18,79.9],[6.28,80.45],[6.28,80.9],[6.32,81.3],[6.34,81.4],[6.33,80.05],[6.5,81.05],[6.55,80.2],[6.72,81.75],[6.72,81.3],[6.75,80.95],[6.78,80.2],[6.92,80.75],[7.1,80.7],[7.17,81.9],[7.17,81.55],[7.34,80.2],[7.38,81.05],[7.4,80.9],[7.5,81.7],[7.58,82.35],[7.63,81.85],[7.67,81.25],[7.84,80.95],[7.92,82.35],[8,80.4],[8.07,81.25],[8.1,81.35],[8.1,82.65],[8.2,80.45],[8.31,82.15],[8.33,82.5],[8.43,82.5],[8.45,82.25],[8.5,82.55],[8.58,80.6],[8.6,81.35],[8.6,81],[8.62,80.75],[8.65,80.8],[8.68,81.7],[8.96,81.45],[9.07,81.7],[9.13,81.75],[9.15,81.85],[9.2,81.65],[9.25,81.65],[9.28,81.9],[9.33,81.05],[9.5,80.95]];
const method1SouthPrecipitation = [[3.21,84],[3.45,83.4],[3.73,82.7],[4.01,82],[4.3,81.65],[4.58,81.35],[4.87,81.05],[5.15,80.9],[5.6,80.75],[6,80.78],[6.45,80.95],[6.85,81.05],[7.41,81.35],[7.98,81.6],[8.55,81.7],[8.89,81.7],[9.22,81.6]];
const method1SouthPeace = [[3.21,84],[4,83.7],[6,83.03],[7.41,82.55],[9.22,82]];
const method2SouthTrend = [[3.21,84.05],[3.45,83.4],[3.73,82.7],[4.01,82.05],[4.3,81.65],[4.58,81.35],[4.87,81.05],[5.15,80.9],[5.6,80.75],[6,80.78],[6.45,80.95],[6.85,81.05],[7.41,81.35],[7.98,81.6],[8.55,81.7],[8.89,81.7],[9.22,81.6]];

const RED = '#d9503f', ORANGE = '#ffa30d', BLUE = '#5174e2';
const NS = 'http://www.w3.org/2000/svg';
const FLUX_LABEL = 'flux', HEIGHT_LABEL = 'height';

const columns = {
  north: {left: 116.2, right: 876.3, xMin: 2.666, xMax: 10.04, ticks: xTicksNorth, labelX: 132.5, xLabelCenter: 497.5},
  south: {left: 1047, right: 1806.7, xMin: 2.694, xMax: 9.818, ticks: xTicksSouth, labelX: 1062, xLabelCenter: 1427.3}
};
const rows = {
  flux: {top: 147, bottom: 455.3, yMin: 0, yMax: 2.5, ticks: fluxTicks},
  wave: {top: 547.7, bottom: 855.7, yMin: 83, yMax: 92, ticks: waveTicks},
  m1: {top: 948, bottom: 1256, yMin: 75, yMax: 85.5, ticks: method1Ticks},
  m2: {top: 1348, bottom: 1655.8, yMin: 70, yMax: 84.5, ticks: method2Ticks}
};
const panels = [
  {tag:'a', col:'north', row:'flux', kind:FLUX_LABEL, labelBase:49, series:[[fluxNorth,RED]], trends:[]},
  {tag:'b', col:'south', row:'flux', kind:FLUX_LABEL, labelBase:978.5, series:[[fluxSouthLow,ORANGE],[fluxSouthHigh,BLUE]], trends:[]},
  {tag:'c', col:'north', row:'wave', kind:HEIGHT_LABEL, labelBase:58, series:[[waveNorth,RED]], trends:[[waveNorthTrend,false]]},
  {tag:'d', col:'south', row:'wave', kind:HEIGHT_LABEL, labelBase:988.5, series:[[waveSouthLow,ORANGE],[waveSouthHigh,BLUE]], trends:[[waveSouthTrend,false]]},
  {tag:'e', col:'north', row:'m1', kind:HEIGHT_LABEL, labelBase:58, series:[[method1North,RED]], trends:[[method1NorthPrecipitation,false],[method1NorthPeace,true]]},
  {tag:'f', col:'south', row:'m1', kind:HEIGHT_LABEL, labelBase:988.5, series:[[method1SouthLow,ORANGE],[methodSouthHigh,BLUE]], trends:[[method1SouthPrecipitation,false],[method1SouthPeace,true]]},
  {tag:'g', col:'north', row:'m2', kind:HEIGHT_LABEL, labelBase:36, series:[[method2North,RED]], trends:[[method2NorthTrend,false]], xLabels:true},
  {tag:'h', col:'south', row:'m2', kind:HEIGHT_LABEL, labelBase:966.5, series:[[method2SouthLow,ORANGE],[methodSouthHigh,BLUE]], trends:[[method2SouthTrend,false]], xLabels:true}
];

function make(tag, parent, props) {
  const el = document.createElementNS(NS, tag);
  for (const k in props) el.setAttribute(k, props[k]);
  parent.appendChild(el);
  return el;
}
function smoothPath(pts) {
  let d = 'M' + pts[0][0].toFixed(2) + ' ' + pts[0][1].toFixed(2);
  for (let i = 0; i < pts.length - 1; i++) {
    const p0 = pts[Math.max(i - 1, 0)], p1 = pts[i], p2 = pts[i + 1], p3 = pts[Math.min(i + 2, pts.length - 1)];
    const c1x = p1[0] + (p2[0] - p0[0]) / 6, c1y = p1[1] + (p2[1] - p0[1]) / 6;
    const c2x = p2[0] - (p3[0] - p1[0]) / 6, c2y = p2[1] - (p3[1] - p1[1]) / 6;
    d += 'C' + c1x.toFixed(2) + ' ' + c1y.toFixed(2) + ' ' + c2x.toFixed(2) + ' ' + c2y.toFixed(2) + ' ' + p2[0].toFixed(2) + ' ' + p2[1].toFixed(2);
  }
  return d;
}

const root = document.getElementById('plots');
panels.forEach(function (p) {
  const c = columns[p.col], r = rows[p.row];
  const xScale = function (v) { return c.left + (v - c.xMin) / (c.xMax - c.xMin) * (c.right - c.left); };
  const yScale = function (v) { return r.bottom - (v - r.yMin) / (r.yMax - r.yMin) * (r.bottom - r.top); };
  const g = make('g', root, {});
  
  

  c.ticks.forEach(function (t) {
    const x = xScale(Number(t));
    const gl = make('line', g, {x1: x, x2: x, y1: r.top, y2: r.bottom, stroke: '#cbcbcb', 'stroke-width': 2, 'stroke-dasharray': '8.4 3.6'});
    
    
  });
  r.ticks.forEach(function (t) {
    const y = yScale(Number(t));
    const gl = make('line', g, {x1: c.left, x2: c.right, y1: y, y2: y, stroke: '#cbcbcb', 'stroke-width': 2, 'stroke-dasharray': '8.4 3.6'});
    
    
  });

  p.series.forEach(function (s) {
    s[0].forEach(function (pt) {
      const dot = make('circle', g, {cx: xScale(pt[0]), cy: yScale(pt[1]), r: 5.9, fill: s[1]});
      
      
    });
  });

  p.trends.forEach(function (t) {
    const pts = t[0].map(function (q) { return [xScale(q[0]), yScale(q[1])]; });
    const line = make('path', g, {d: smoothPath(pts), 'class': t[1] ? 'tl ds' : 'tl'});
    
    
  });

  const frame = make('rect', g, {x: c.left, y: r.top, width: c.right - c.left, height: r.bottom - r.top, fill: 'none', stroke: '#111', 'stroke-width': 2.3});
  
  

  c.ticks.forEach(function (t) {
    const x = xScale(Number(t));
    const tick = make('line', g, {x1: x, x2: x, y1: r.bottom, y2: r.bottom + 8, stroke: '#111', 'stroke-width': 1.8});
    
    
    if (p.xLabels) {
      const lab = make('text', g, {x: x, y: r.bottom + 34, 'text-anchor': 'middle', 'font-size': 22.7});
      lab.textContent = t;
      
      
    }
  });
  r.ticks.forEach(function (t) {
    const y = yScale(Number(t));
    const tick = make('line', g, {x1: c.left - 8, x2: c.left, y1: y, y2: y, stroke: '#111', 'stroke-width': 1.8});
    
    
    const lab = make('text', g, {x: c.left - 15.5, y: y + 8.3, 'text-anchor': 'end', 'font-size': 22.7});
    lab.textContent = t;
    
    
  });

  const yc = (r.top + r.bottom) / 2;
  const yLabel = make('text', g, {transform: 'translate(' + p.labelBase + ' ' + yc + ') rotate(-90)', 'text-anchor': 'middle', 'font-size': 22.7});
  if (p.kind === FLUX_LABEL) {
    const a = make('tspan', yLabel, {}); a.textContent = 'Energy Flux log';
    const b = make('tspan', yLabel, {dy: 4, 'font-size': 16}); b.textContent = '10';
    const d = make('tspan', yLabel, {dy: -4}); d.textContent = '(MeV/cm²/s)';
  } else {
    yLabel.textContent = 'Reflection Height (km)';
  }
  
  

  if (p.xLabels) {
    const xLabel = make('text', g, {x: c.xLabelCenter, y: 1720, 'text-anchor': 'middle', 'font-size': 22.7});
    xLabel.textContent = 'L Value';
    
    
  }

  const tag = make('text', g, {x: c.labelX, y: r.bottom - 10, 'font-size': 27.2, 'font-weight': 'bold'});
  tag.textContent = '(' + p.tag + ')';
  
  
});
</script>
</body>
</html>
